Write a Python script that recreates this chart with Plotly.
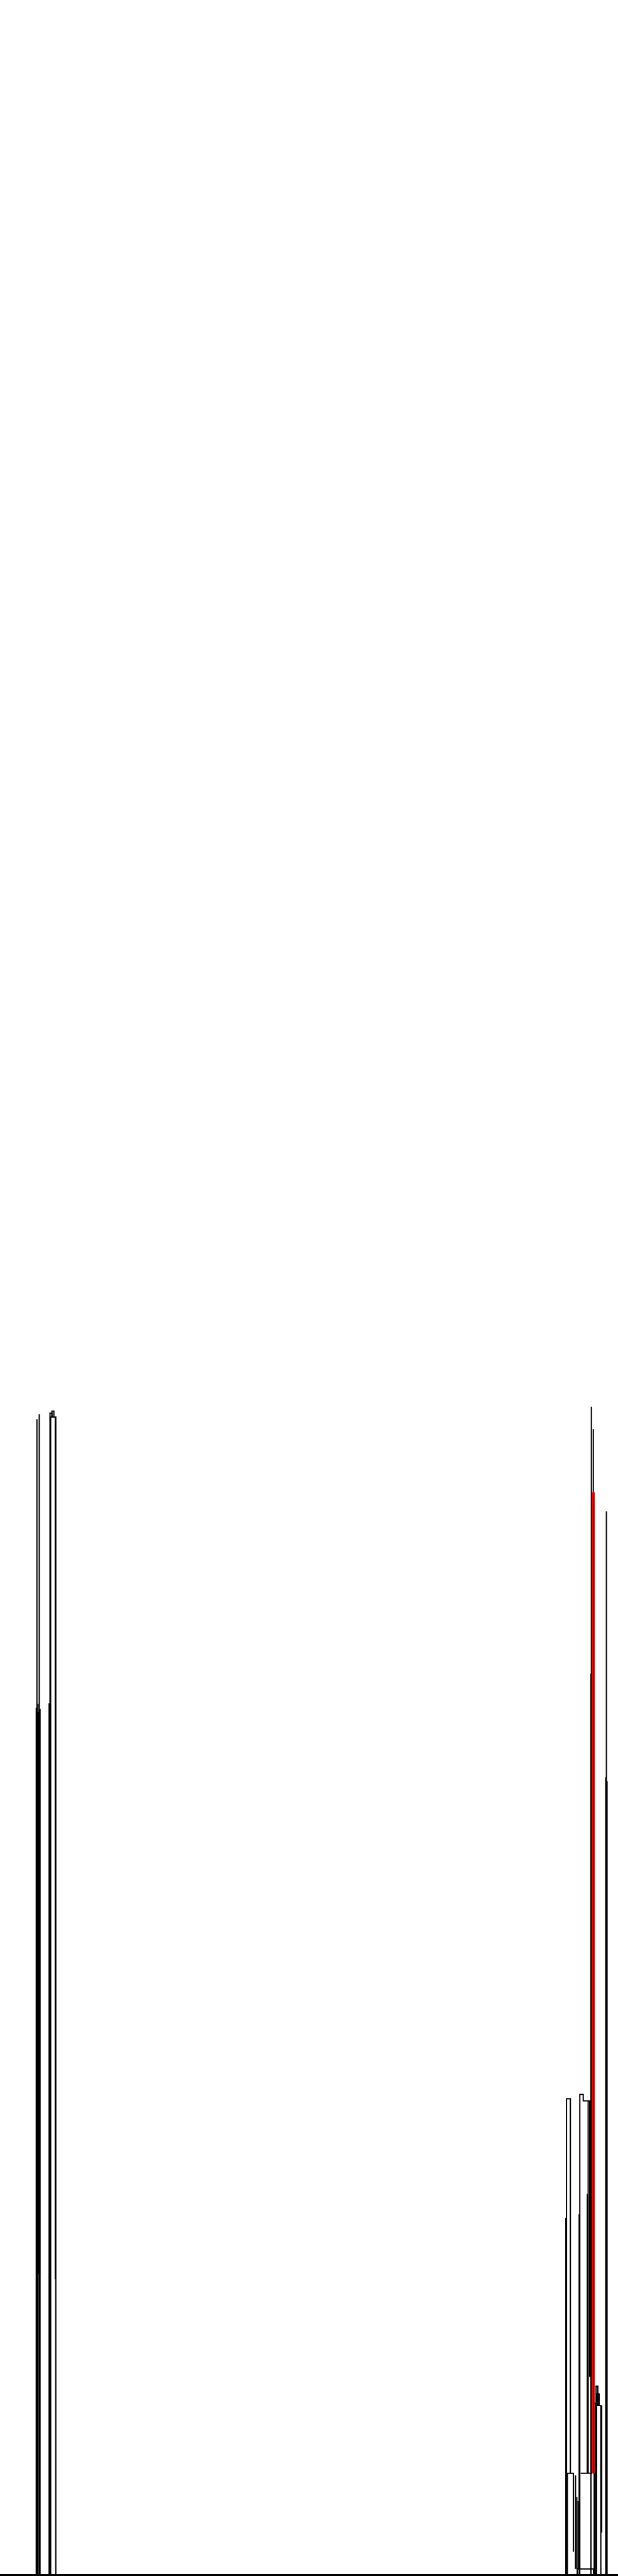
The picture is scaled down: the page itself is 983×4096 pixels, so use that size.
import plotly.graph_objects as go

# Dendrogram-like links: each link is a polyline (x list, y list) in data units.
# x: leaf position units, y: merge height units.
link_x = [
    # left group
    [8.6, 8.6], [9.15, 9.15], [8.45, 8.45], [8.85, 8.85], [9.33, 9.33],
    [8.73, 8.73], [9.0, 9.0], [9.24, 9.24],
    [11.65, 11.65, 12.1, 12.1], [12.1, 12.1, 12.55, 12.55], [11.8, 11.8, 13.0, 13.0],
    [11.45, 11.45], [12.88, 12.88],
    # right group
    [132.0, 132.0, 132.9, 132.9], [132.2, 132.2, 133.6, 133.6], [131.85, 131.85],
    [135.1, 135.1, 135.9, 135.9], [135.8, 137.4, 137.4],
    [137.05, 137.05], [135.3, 138.0], [136.85, 136.85], [134.95, 134.95],
    [137.8, 137.8], [138.25, 138.25], [137.7, 137.7],
    [138.45, 138.45], [138.75, 138.75], [139.0, 139.0],
    [138.9, 138.9, 139.3, 139.3], [139.1, 139.1, 139.6, 139.6],
    [139.3, 139.3, 140.0, 140.0], [140.2, 140.2],
    [134.5, 134.5, 138.3, 138.3], [134.1, 134.1], [134.4, 134.4], [134.7, 134.7],
    [141.3, 141.3], [141.15, 141.15], [141.45, 141.45],
    # highlighted link
    [138.05, 138.05, 138.47, 138.47],
]
link_y = [
    [0, 2.692], [0, 2.704], [0, 2.019], [0, 2.029], [0, 2.017],
    [0, 2.01], [0.70, 2.01], [0.70, 2.01],
    [0, 2.706, 2.706, 2.697], [2.697, 2.711, 2.711, 2.697], [0, 2.697, 2.697, 0],
    [0, 2.03], [0.687, 2.697],
    [0, 1.108, 1.108, 0.235], [0, 0.235, 0.235, 0.052], [0, 0.83],
    [0, 1.118, 1.118, 1.103], [1.103, 1.103, 0.46],
    [1.103, 0.235], [0.235, 0.235], [0.235, 0.886], [0, 0.839],
    [0.235, 2.721], [0.235, 2.669], [0, 2.099],
    [0, 0.40], [0, 0.40], [0, 0.40],
    [0.40, 0.438, 0.438, 0.40], [0.40, 0.42, 0.42, 0.393],
    [0.40, 0.393, 0.393, 0], [0.097, 0.393],
    [0, 0.012, 0.012, 0], [0.012, 0.23], [0.012, 0.18], [0.012, 0.17],
    [0, 2.477], [0, 1.857], [0, 1.848],
    [0.235, 2.52, 2.52, 0.235],
]
link_color = ["black"] * (len(link_x) - 1) + ["red"]

fig = go.Figure()
for color in ["black", "red"]:
    xs, ys = [], []
    for lx, ly, c in zip(link_x, link_y, link_color):
        if c == color:
            xs += lx + [None]
            ys += ly + [None]
    fig.add_trace(go.Scatter(x=xs, y=ys, mode="lines",
                             line=dict(color="#000000" if color == "black" else "#ff0000", width=2.0),
                             hoverinfo="skip", showlegend=False))

fig.update_layout(
    width=983, height=4096,
    margin=dict(l=0, r=0, t=0, b=3),
    paper_bgcolor="white", plot_bgcolor="white",
    xaxis=dict(range=[0, 144], showgrid=False, zeroline=False, showticklabels=False,
               ticks="", showline=True, linecolor="black", linewidth=3),
    yaxis=dict(range=[0, 6.0], showgrid=False, zeroline=False, showticklabels=False,
               ticks="", showline=False),
)
fig.write_html("out.html", config={"displayModeBar": False},
               post_script="document.body.style.margin='0';document.body.style.overflow='hidden';")
